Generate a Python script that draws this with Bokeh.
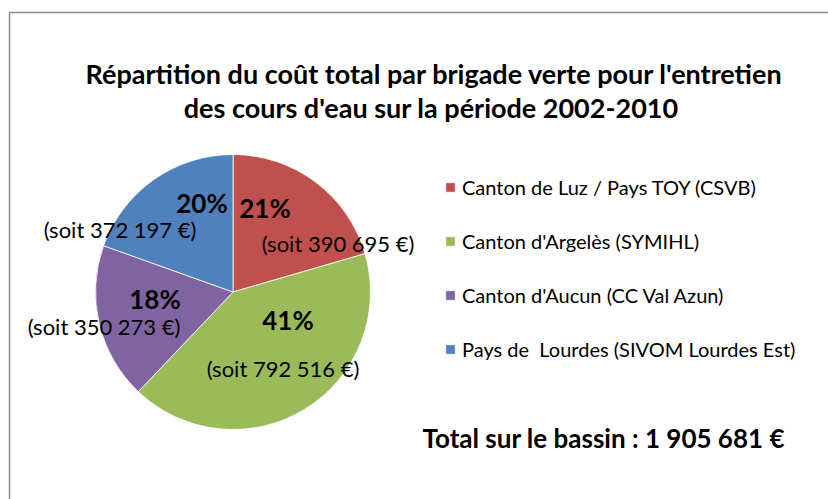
import math
from bokeh.plotting import figure
from bokeh.models import Range1d, ColumnDataSource
from bokeh.core.properties import value
from bokeh.embed import file_html
from bokeh.resources import INLINE

title_lines = ["Répartition du coût total par brigade verte pour l'entretien",
               "des cours d'eau  sur la période 2002-2010"]
categories = ["Canton de Luz / Pays TOY (CSVB)", "Canton d'Argelès (SYMIHL)",
              "Canton d'Aucun (CC Val Azun)", "Pays de  Lourdes (SIVOM Lourdes Est)"]
costs = [390695, 792516, 350273, 372197]
colors = ["#C0504D", "#9BBB59", "#8064A2", "#4F81BD"]
pct_labels = ["21%", "41%", "18%", "20%"]
amount_labels = ["(soit 390 695 €)", "(soit 792 516 €)", "(soit 350 273 €)", "(soit 372 197 €)"]
total_label = "Total sur le bassin : 1 905 681 €"

FONT = "Lato"
W, H = 828, 499
# data coords == screen px (x), y = H - screen y
p = figure(width=W, height=H, output_backend="svg", toolbar_location=None,
           x_range=Range1d(0, W), y_range=Range1d(0, H),
           min_border=0, outline_line_color=None)
p.axis.visible = False
p.grid.visible = False
p.background_fill_color = "white"

def sy(y):
    return H - y

# chart border
p.quad(left=[9], right=[W + 20], top=[sy(12)], bottom=[sy(H + 20)], fill_color=None,
       line_color="#8C8C8C", line_width=1.5)

# title
for i, t in enumerate(title_lines):
    p.text(x=[434], y=[sy(73 + 34 * i)], text=[t], text_font=value(FONT),
           text_font_style="bold", text_font_size="27px", text_align="center",
           text_baseline="middle", text_color="black")

# pie
cx, cy, r = 232.5, sy(291.5), 137.5
total = sum(costs)
starts, ends = [], []
cum = 0
for v in costs:
    a0 = math.pi / 2 - 2 * math.pi * cum / total
    cum += v
    a1 = math.pi / 2 - 2 * math.pi * cum / total
    starts.append(a0); ends.append(a1)
src = ColumnDataSource(dict(start=starts, end=ends, color=colors, name=categories))
p.wedge(x=cx, y=cy, radius=r, start_angle="start", end_angle="end",
        direction="clock", fill_color="color", line_color="white",
        line_width=0.8, source=src, legend_field="name")

# labels (offsets from pie centre, screen px)
pct_off = [(32, -84), (55, 28), (-78, 7), (-31, -89)]
amt_off = [(105, -49), (50, 76), (-129, 34), (-113, -63)]
for i in range(4):
    p.text(x=[cx + pct_off[i][0]], y=[cy - pct_off[i][1]], text=[pct_labels[i]],
           text_font=value(FONT), text_font_style="bold", text_font_size="26px",
           text_align="center", text_baseline="middle", text_color="black")
    p.text(x=[cx + amt_off[i][0]], y=[cy - amt_off[i][1]], text=[amount_labels[i]],
           text_font=value(FONT), text_font_size="22px",
           text_align="center", text_baseline="middle", text_color="black")

# total
p.text(x=[422], y=[sy(437)], text=[total_label], text_font=value(FONT),
       text_font_style="bold", text_font_size="26px", text_align="left",
       text_baseline="middle", text_color="black")

# legend
leg = p.legend[0]
leg.location = (444, 138)
leg.glyph_width = 12
leg.glyph_height = 12
leg.label_height = 20
leg.spacing = 30
leg.padding = 0
leg.margin = 0
leg.label_standoff = 6
leg.border_line_alpha = 0
leg.background_fill_alpha = 0
leg.label_text_font = FONT
leg.label_text_font_size = "20px"
leg.label_text_color = "black"

open("out.html", "w").write(file_html(p, INLINE))
